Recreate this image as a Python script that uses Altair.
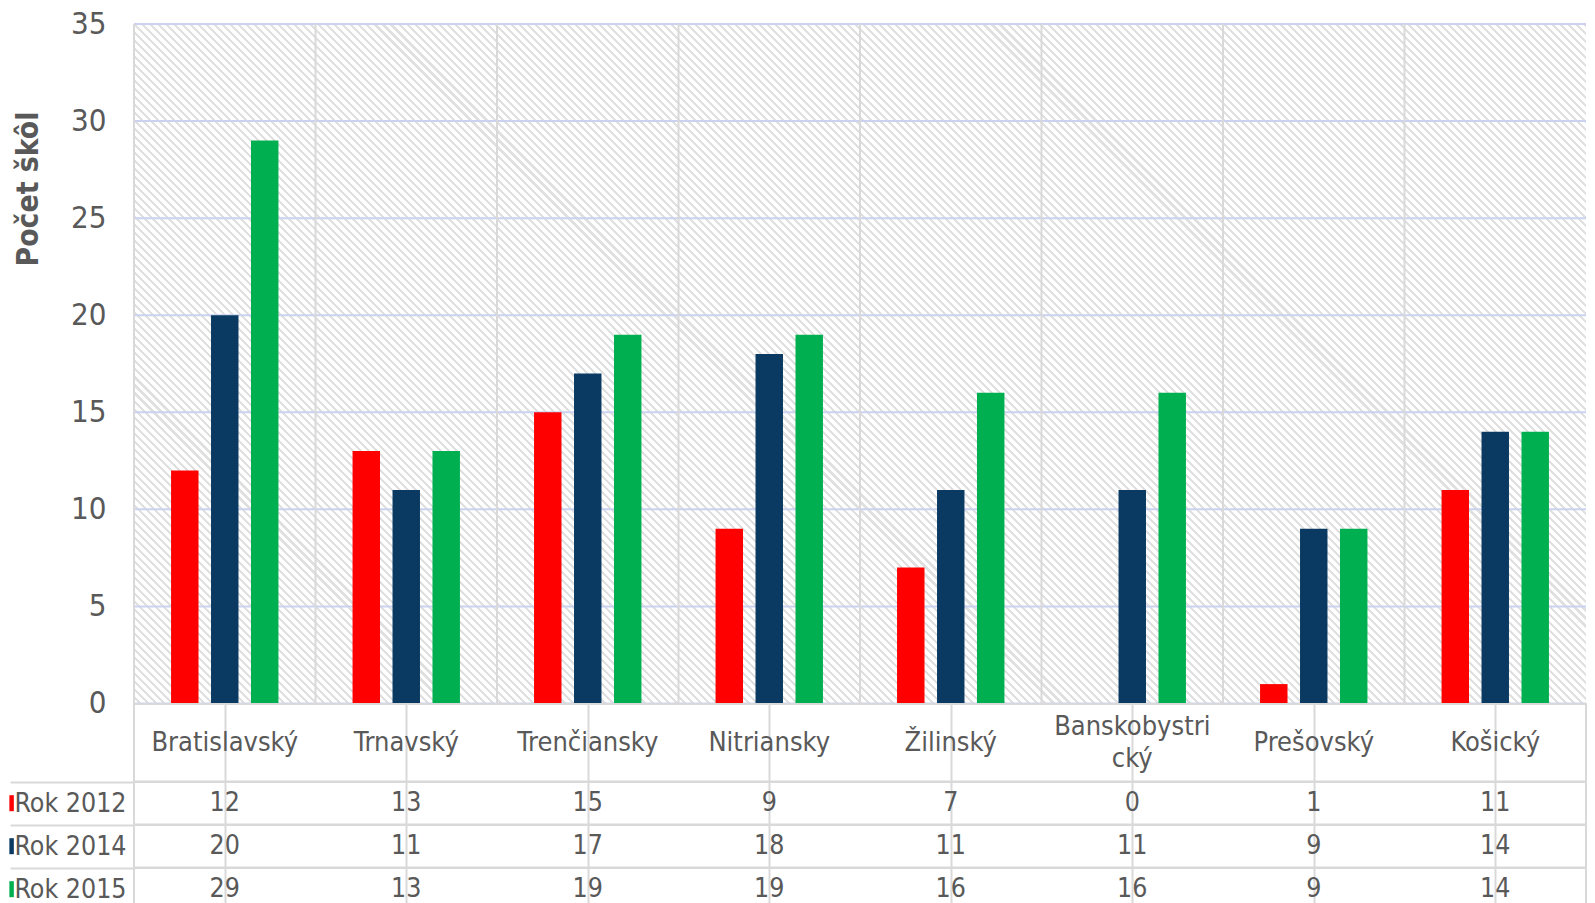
import altair as alt
import pandas as pd

categories = ["Bratislavský", "Trnavský", "Trenčiansky", "Nitriansky",
              "Žilinský", "Banskobystrický", "Prešovský", "Košický"]
label_line1 = ["Bratislavský", "Trnavský", "Trenčiansky", "Nitriansky",
               "Žilinský", "Banskobystri", "Prešovský", "Košický"]
label_line2 = ["", "", "", "", "", "cký", "", ""]
series = ["Rok 2012", "Rok 2014", "Rok 2015"]
values_2012 = [12, 13, 15, 9, 7, 0, 1, 11]
values_2014 = [20, 11, 17, 18, 11, 11, 9, 14]
values_2015 = [29, 13, 19, 19, 16, 16, 9, 14]
colors = ["#ff0000", "#0a3a62", "#00b050"]
y_ticks = [0, 5, 10, 15, 20, 25, 30, 35]

rows = []
for i, c in enumerate(categories):
    for s, vals in zip(series, [values_2012, values_2014, values_2015]):
        rows.append({"kraj": c, "rok": s, "pocet": vals[i]})
df = pd.DataFrame(rows)
labels_df = pd.DataFrame({"kraj": categories, "line1": label_line1, "line2": label_line2})
ticks_df = pd.DataFrame({"v": y_ticks})
cats_df = pd.DataFrame({"kraj": categories})

FONT = "DejaVu Sans Condensed"
TXT = "#595959"
LINE = "#d9d9d9"
W = 1452
H_PLOT = 679.5
H_LABEL = 77.5
H_ROW = 42.4
LINE_GAP = 32.5

# diagonal hatch of the plot background, drawn as a striped linear gradient
r = H_PLOT / W
gx = (1 + r) / (1 + r * r)
gy = 1 - gx * r
n_stripes = int(round((W + H_PLOT) / 8))
stops = []
for k in range(n_stripes):
    a = k / n_stripes
    b = (k + 0.62) / n_stripes
    c = (k + 1) / n_stripes
    stops += [{"offset": a, "color": "#ffffff"}, {"offset": b, "color": "#ffffff"},
              {"offset": b, "color": "#e0e0e0"}, {"offset": c, "color": "#e0e0e0"}]
hatch = {"gradient": "linear", "x1": 0, "y1": 1, "x2": gx, "y2": gy, "stops": stops}

xscale = alt.Scale(domain=categories, paddingInner=0, paddingOuter=0)
yscale = alt.Scale(domain=[0, 35], nice=False)
color_scale = alt.Scale(domain=series, range=colors)


def y_axis():
    return alt.Axis(values=y_ticks, title="Počet škôl", labelFont=FONT, labelFontSize=31,
                    labelColor=TXT, labelPadding=28, ticks=False, domain=False, grid=False,
                    titleFont=FONT, titleFontSize=29.8, titleFontWeight="bold",
                    titleColor=TXT, titleX=-96.5, titleY=164.5, titleAngle=-90,
                    titleBaseline="alphabetic", titleAlign="center")


def grid_x():
    return alt.Axis(title=None, labels=False, ticks=False, domain=False, grid=True,
                    gridColor=LINE, gridWidth=2, bandPosition=0, minExtent=0, maxExtent=0)


background = alt.Chart(pd.DataFrame({"a": [0]})).mark_rect(fill=hatch).encode(
    x=alt.value(0), x2=alt.value("width"), y=alt.value(0), y2=alt.value("height"))

hgrid = alt.Chart(ticks_df).mark_rule(color="#cad2ef", strokeWidth=2).encode(
    y=alt.Y("v:Q", scale=yscale, axis=y_axis()))

vgrid = alt.Chart(cats_df).mark_rule(color=LINE, strokeWidth=2).encode(
    x=alt.X("kraj:N", scale=xscale, sort=categories, bandPosition=0, axis=None))

bars = alt.Chart(df).mark_bar().encode(
    x=alt.X("kraj:N", scale=xscale, sort=categories, axis=None),
    xOffset=alt.XOffset("rok:N", sort=series,
                        scale=alt.Scale(domain=series, paddingInner=0.313, paddingOuter=0.927)),
    y=alt.Y("pocet:Q", scale=yscale, axis=y_axis()),
    color=alt.Color("rok:N", scale=color_scale, legend=None),
)

plot_panel = alt.layer(background, hgrid, vgrid, bars).properties(
    width=W, height=H_PLOT, view=alt.ViewBackground(fill="white", stroke=None))

label_base = alt.Chart(labels_df).encode(
    x=alt.X("kraj:N", scale=xscale, sort=categories, axis=grid_x()))
text_style = dict(font=FONT, fontSize=27, color=TXT, baseline="middle")
single = label_base.transform_filter("datum.line2 == ''").mark_text(**text_style).encode(
    text="line1:N")
first = label_base.transform_filter("datum.line2 != ''").mark_text(
    dy=-LINE_GAP / 2, **text_style).encode(text="line1:N")
second = label_base.transform_filter("datum.line2 != ''").mark_text(
    dy=LINE_GAP / 2, **text_style).encode(text="line2:N")
label_panel = alt.layer(single, first, second).properties(
    width=W, height=H_LABEL,
    view=alt.ViewBackground(fill="white", stroke=LINE, strokeWidth=2))

row_panels = []
for s, col in zip(series, colors):
    sub = df[df["rok"] == s]
    y_enc = alt.Y("rok:N", scale=alt.Scale(domain=[s], paddingInner=0, paddingOuter=0),
                  axis=alt.Axis(title=None, labelFont=FONT, labelFontSize=26.5, labelColor=TXT,
                                ticks=True, tickSize=124, tickColor=LINE, tickWidth=2,
                                tickOffset=-H_ROW / 2, labelOffset=H_ROW / 2,
                                labelPadding=-116, domain=False, grid=False))
    cells = alt.Chart(sub).mark_text(font=FONT, fontSize=26.5, color=TXT, baseline="middle").encode(
        x=alt.X("kraj:N", scale=xscale, sort=categories, axis=grid_x()),
        y=y_enc,
        text="pocet:Q",
    )
    marker = alt.Chart(pd.DataFrame({"rok": [s]})).mark_point(
        shape="M-0.28,-1H0.28V1H-0.28Z", filled=True, opacity=1, size=256, color=col
    ).encode(x=alt.value(-122.4), y=y_enc)
    row_panels.append(alt.layer(cells, marker).properties(
        width=W, height=H_ROW,
        view=alt.ViewBackground(fill="white", stroke=LINE, strokeWidth=2)))

chart = alt.vconcat(plot_panel, label_panel, *row_panels, spacing=0, bounds="flush",
                    padding={"left": 0, "top": 0, "right": 0, "bottom": 0}).configure(
    background="white", font=FONT)

chart.save("out.html", embed_options={"renderer": "svg", "actions": False})
